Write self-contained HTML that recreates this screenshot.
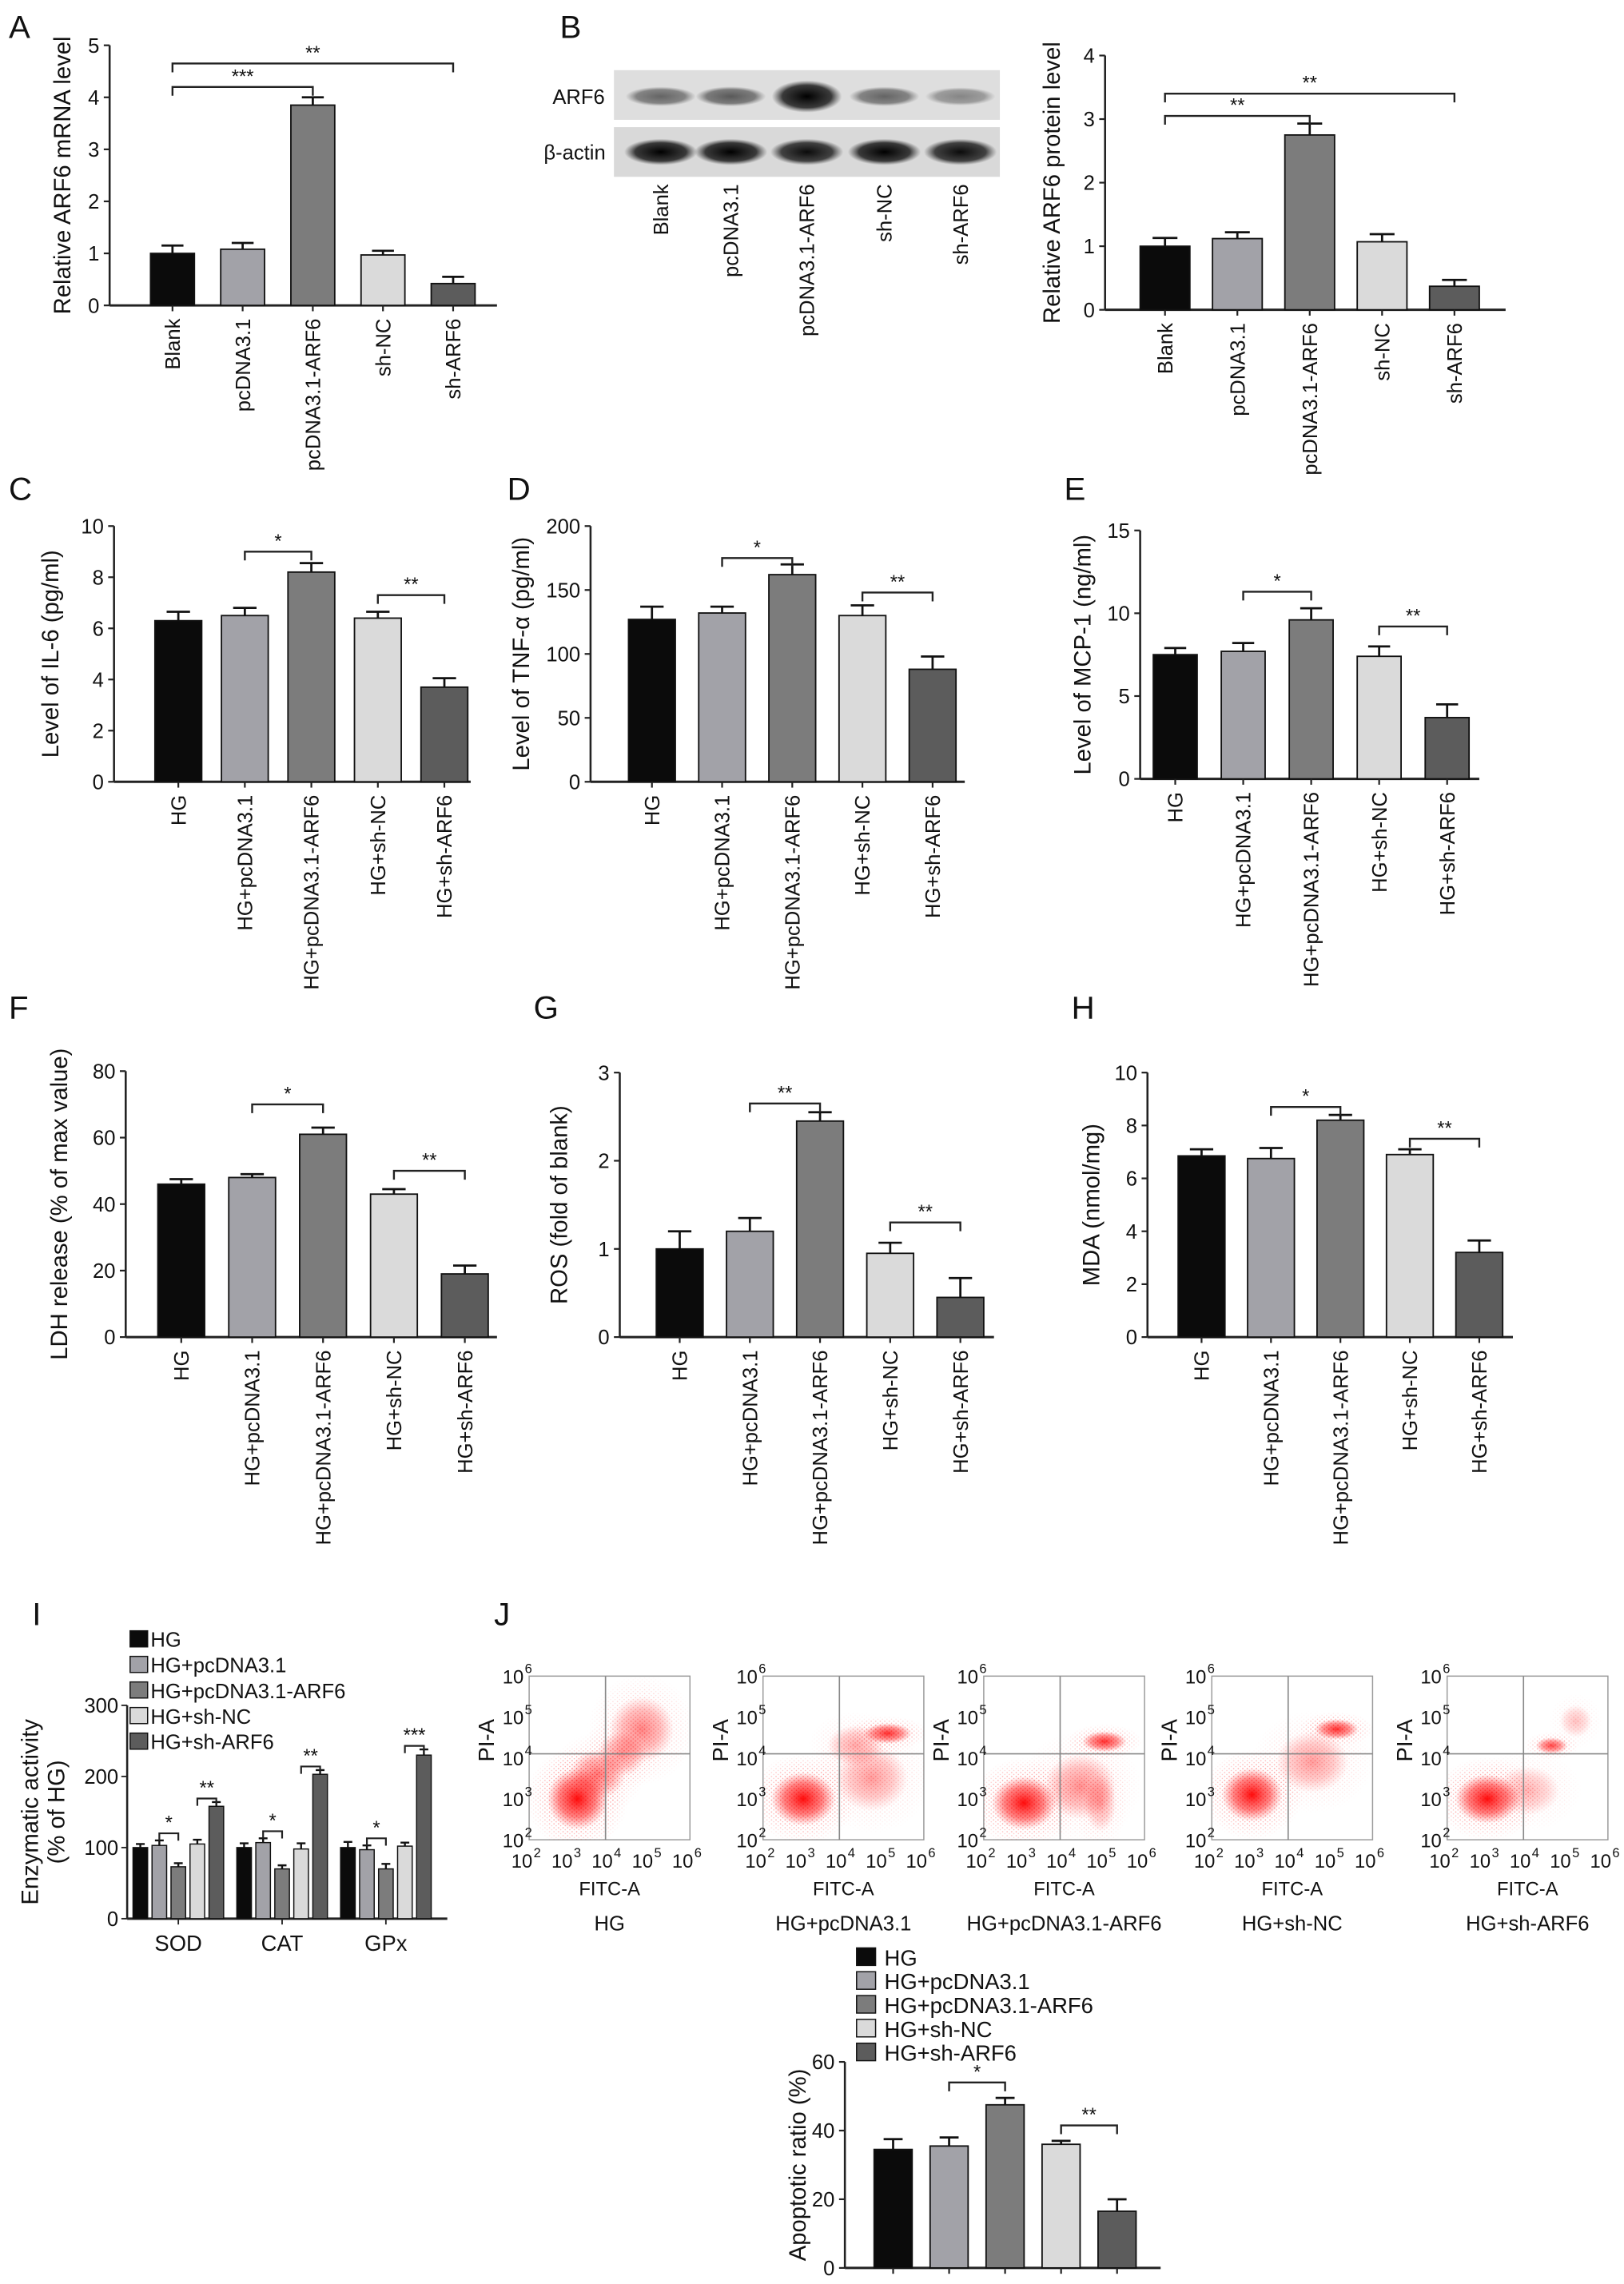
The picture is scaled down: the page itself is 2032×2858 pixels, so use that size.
<!DOCTYPE html>
<html><head><meta charset="utf-8"><style>
html,body{margin:0;padding:0;background:#fff}
svg{display:block}
text{font-family:"Liberation Sans",Arial,sans-serif;fill:#111}
</style></head><body>
<svg id="fig" width="2032" height="2858" viewBox="0 0 1111 1563" preserveAspectRatio="none" xmlns="http://www.w3.org/2000/svg">
<defs>
<radialGradient id="dotg"><stop offset="0" stop-color="#ff0000" stop-opacity="0.95"/><stop offset="0.6" stop-color="#ff2020" stop-opacity="0.55"/><stop offset="1" stop-color="#ff4040" stop-opacity="0"/></radialGradient>
<radialGradient id="bandg"><stop offset="0" stop-color="#000" stop-opacity="1"/><stop offset="0.7" stop-color="#111" stop-opacity="0.8"/><stop offset="1" stop-color="#333" stop-opacity="0"/></radialGradient>
<pattern id="dots" width="3.1" height="2.7" patternUnits="userSpaceOnUse"><circle cx="0.8" cy="0.7" r="0.45" fill="#f00"/><circle cx="2.3" cy="2.0" r="0.4" fill="#f33"/></pattern>
<radialGradient id="fade"><stop offset="0" stop-color="#fff" stop-opacity="1"/><stop offset="0.5" stop-color="#fff" stop-opacity="0.6"/><stop offset="1" stop-color="#fff" stop-opacity="0"/></radialGradient>
<mask id="fadeMask" maskContentUnits="objectBoundingBox"><rect x="0" y="0" width="1" height="1" fill="url(#fade)"/></mask>
</defs>
</svg>
<script>
const groups5=["Blank","pcDNA3.1","pcDNA3.1-ARF6","sh-NC","sh-ARF6"];
const hgGroups=["HG","HG+pcDNA3.1","HG+pcDNA3.1-ARF6","HG+sh-NC","HG+sh-ARF6"];
const fills=["#0b0b0b","#a2a2a8","#7c7c7c","#dadada","#5c5c5c"];
// A
const aVals=[1.0,1.08,3.85,0.97,0.42];
const aErr=[0.15,0.12,0.15,0.08,0.13];
const aTicks=[0,1,2,3,4,5];
// B
const bVals=[1.0,1.12,2.75,1.07,0.37];
const bErr=[0.13,0.10,0.18,0.12,0.10];
const bTicks=[0,1,2,3,4];
const blotArf6=[0.55,0.6,1.0,0.55,0.4];
const blotActin=[1,1,0.95,1,0.95];
// C
const cVals=[6.3,6.5,8.2,6.4,3.7];
const cErr=[0.35,0.3,0.35,0.25,0.35];
const cTicks=[0,2,4,6,8,10];
// D
const dVals=[127,132,162,130,88];
const dErr=[10,5,8,8,10];
const dTicks=[0,50,100,150,200];
// E
const eVals=[7.5,7.7,9.6,7.4,3.7];
const eErr=[0.4,0.5,0.7,0.6,0.8];
const eTicks=[0,5,10,15];
// F
const fVals=[46,48,61,43,19];
const fErr=[1.5,1,2,1.5,2.5];
const fTicks=[0,20,40,60,80];
// G
const gVals=[1.0,1.2,2.45,0.95,0.45];
const gErr=[0.2,0.15,0.1,0.12,0.22];
const gTicks=[0,1,2,3];
// H
const hVals=[6.85,6.75,8.2,6.9,3.2];
const hErr=[0.25,0.4,0.2,0.2,0.45];
const hTicks=[0,2,4,6,8,10];
// I
const iCats=["SOD","CAT","GPx"];
const iVals=[[100,103,73,105,158],[100,107,70,98,203],[100,97,70,102,230]];
const iErr=[[5,7,5,6,6],[6,6,5,8,6],[8,6,7,5,8]];
const iTicks=[0,100,200,300];
// J apoptosis
const jVals=[34.5,35.5,47.5,36,16.5];
const jErr=[3,2.5,2,1,3.5];
const jTicks=[0,20,40,60];
// flow clusters: [fitcLog, piLog, rx(decades), ry(decades), opacity]
const flowClusters=[
 [[3.2,3.0,0.75,0.75,1],[3.7,3.6,0.7,0.6,0.55],[4.8,4.7,0.8,0.8,0.5],[4.3,4.1,0.6,0.55,0.45]],
 [[3.0,3.0,0.8,0.65,1],[5.1,4.6,0.6,0.25,0.85],[4.7,3.5,0.9,0.8,0.4],[4.3,4.3,0.7,0.5,0.35]],
 [[3.0,2.9,0.8,0.65,1],[5.0,4.4,0.55,0.25,0.85],[4.4,3.3,0.9,0.8,0.45],[4.9,2.9,0.4,0.7,0.35]],
 [[3.0,3.1,0.75,0.65,1],[5.1,4.7,0.55,0.25,0.85],[4.5,3.9,0.9,0.75,0.4]],
 [[3.0,3.0,0.8,0.6,1],[4.6,4.3,0.4,0.2,0.75],[4.0,3.2,0.8,0.6,0.3],[5.2,4.9,0.4,0.4,0.25]]
];
const flowNames=["HG","HG+pcDNA3.1","HG+pcDNA3.1-ARF6","HG+sh-NC","HG+sh-ARF6"];
const flowTickExp=[2,3,4,5,6];

const svg=document.getElementById('fig');
const NS="http://www.w3.org/2000/svg";
function el(tag,attrs,parent){const e=document.createElementNS(NS,tag);for(const k in attrs)e.setAttribute(k,attrs[k]);(parent||svg).appendChild(e);return e;}
function txt(s,x,y,size,parent,extra){const t=el('text',Object.assign({x:x,y:y,'font-size':size},extra||{}),parent);t.textContent=s;return t;}

function barChart(c){
  const g=el('g',{});
  
  
  const ys=v=>c.yBot-(v/c.vmax)*(c.yBot-c.yTop);
  const xs=i=>c.first+i*c.step;
  const ya=el('line',{x1:c.ax,y1:c.yTop,x2:c.ax,y2:c.yBot,stroke:'#222','stroke-width':1.4},g);
  
  c.ticks.forEach(t=>{const y=ys(t);el('line',{x1:c.ax-4,y1:y,x2:c.ax,y2:y,stroke:'#222','stroke-width':1.2},g);
    const tl=txt(String(t),c.ax-7,y+5,c.fs||14,g,{'text-anchor':'end'});});
  const xa=el('line',{x1:c.ax,y1:c.yBot,x2:c.xEnd,y2:c.yBot,stroke:'#222','stroke-width':1.6},g);
  
  c.vals.forEach((v,i)=>{
    const x=xs(i),y=ys(v);
    const r=el('rect',{x:x-c.w/2,y:y,width:c.w,height:c.yBot-y,fill:fills[i],stroke:'#111','stroke-width':1},g);
    
    const ye=ys(v+c.err[i]);
    el('line',{x1:x,y1:y,x2:x,y2:ye,stroke:'#111','stroke-width':1.5},g);
    el('line',{x1:x-c.w*0.25,y1:ye,x2:x+c.w*0.25,y2:ye,stroke:'#111','stroke-width':1.5},g);
    el('line',{x1:x,y1:c.yBot,x2:x,y2:c.yBot+4,stroke:'#222','stroke-width':1.2},g);
    if(c.rotLabels!==false){
      const t=txt(c.cats[i],0,0,c.lfs||14,g,{'text-anchor':'end',transform:`translate(${x+5},${c.yBot+9}) rotate(-90)`});
      
    }
  });
  (c.brackets||[]).forEach(b=>{
    const y=ys(b[2]),x1=xs(b[0]),x2=xs(b[1]);
    el('path',{d:`M${x1},${y+6}V${y}H${x2}V${y+6}`,fill:'none',stroke:'#222','stroke-width':1.3},g);
    const st=txt(b[3],(x1+x2)/2,y-3,13,g,{'text-anchor':'middle'});
    
  });
  const yt=txt(c.title,0,0,c.tfs||16,g,{'text-anchor':'middle',transform:`translate(${c.titleX},${(c.yTop+c.yBot)/2}) rotate(-90)`});
  
  return g;
}
function panelLabel(s,x,y){const t=txt(s,x,y,22);}

panelLabel('A',6,26);
barChart({name:'chart-a-mrna',ax:75,xEnd:340,first:118,step:48,w:30,yTop:31,yBot:209,vmax:5,ticks:aTicks,vals:aVals,err:aErr,cats:groups5,title:'Relative ARF6 mRNA level',titleX:48,
 brackets:[[0,2,4.2,'***'],[0,4,4.65,'**']]});
panelLabel('B',383,26);
const blot=el('g',{});
el('rect',{x:420,y:48,width:264,height:34,fill:'#dedede'},blot);
el('rect',{x:420,y:87,width:264,height:34,fill:'#d9d9d9'},blot);
const laneX=[452,500,552,605,657];
blotArf6.forEach((a,i)=>{const b=el('ellipse',{cx:laneX[i],cy:66,rx:24,ry:5+6*a*(a>0.9?1:0.5),fill:'url(#bandg)',opacity:a},blot);});
blotActin.forEach((a,i)=>{const b=el('ellipse',{cx:laneX[i],cy:104,rx:25,ry:9,fill:'url(#bandg)',opacity:a},blot);});
txt('ARF6',378,71,14,blot);txt('β-actin',372,109,14,blot);
groups5.forEach((s,i)=>{const t=txt(s,0,0,14,blot,{'text-anchor':'end',transform:`translate(${laneX[i]+5},126) rotate(-90)`});});
barChart({name:'chart-b-protein',ax:756,xEnd:1030,first:797,step:49.5,w:34,yTop:38,yBot:212,vmax:4,ticks:bTicks,vals:bVals,err:bErr,cats:groups5,title:'Relative ARF6 protein level',titleX:725,
 brackets:[[0,2,3.05,'**'],[0,4,3.4,'**']]});

panelLabel('C',6,342);
barChart({name:'chart-c-il6',ax:78,xEnd:322,first:122,step:45.5,w:32,yTop:360,yBot:535,vmax:10,ticks:cTicks,vals:cVals,err:cErr,cats:hgGroups,title:'Level of IL-6 (pg/ml)',titleX:40,
 brackets:[[1,2,9.0,'*'],[3,4,7.3,'**']]});
panelLabel('D',347,342);
barChart({name:'chart-d-tnf',ax:404,xEnd:660,first:446,step:48,w:32,yTop:360,yBot:535,vmax:200,ticks:dTicks,vals:dVals,err:dErr,cats:hgGroups,title:'Level of TNF-α (pg/ml)',titleX:362,
 brackets:[[1,2,175,'*'],[3,4,148,'**']]});
panelLabel('E',728,342);
barChart({name:'chart-e-mcp1',ax:780,xEnd:1012,first:804,step:46.5,w:30,yTop:363,yBot:533,vmax:15,ticks:eTicks,vals:eVals,err:eErr,cats:hgGroups,title:'Level of MCP-1 (ng/ml)',titleX:746,
 brackets:[[1,2,11.3,'*'],[3,4,9.2,'**']]});

panelLabel('F',6,697);
barChart({name:'chart-f-ldh',ax:86,xEnd:340,first:124,step:48.5,w:32,yTop:733,yBot:915,vmax:80,ticks:fTicks,vals:fVals,err:fErr,cats:hgGroups,title:'LDH release (% of max value)',titleX:46,
 brackets:[[1,2,70,'*'],[3,4,50,'**']]});
panelLabel('G',365,697);
barChart({name:'chart-g-ros',ax:424,xEnd:680,first:465,step:48,w:32,yTop:734,yBot:915,vmax:3,ticks:gTicks,vals:gVals,err:gErr,cats:hgGroups,title:'ROS (fold of blank)',titleX:388,
 brackets:[[1,2,2.65,'**'],[3,4,1.3,'**']]});
panelLabel('H',733,697);
barChart({name:'chart-h-mda',ax:785,xEnd:1035,first:822,step:47.5,w:32,yTop:734,yBot:915,vmax:10,ticks:hTicks,vals:hVals,err:hErr,cats:hgGroups,title:'MDA (nmol/mg)',titleX:752,
 brackets:[[1,2,8.7,'*'],[3,4,7.5,'**']]});

panelLabel('I',22,1112);
(function(){
  const g=el('g',{});
  const ax=87,yTop=1167,yBot=1313,vmax=300,xEnd=306;
  const ys=v=>yBot-v/vmax*(yBot-yTop);
  const gx=k=>122+k*71;const bx=(k,i)=>gx(k)+(i-2)*13;
  el('line',{x1:ax,y1:yTop,x2:ax,y2:yBot,stroke:'#222','stroke-width':1.4},g);
  el('line',{x1:ax,y1:yBot,x2:xEnd,y2:yBot,stroke:'#222','stroke-width':1.6},g);
  iTicks.forEach(t=>{const y=ys(t);el('line',{x1:ax-4,y1:y,x2:ax,y2:y,stroke:'#222'},g);txt(String(t),ax-6,y+5,14,g,{'text-anchor':'end'});});
  iVals.forEach((row,k)=>{
    row.forEach((v,i)=>{const x=bx(k,i),y=ys(v);
      const r=el('rect',{x:x-5,y:y,width:10,height:yBot-y,fill:fills[i],stroke:'#111','stroke-width':0.8},g);
      
      const ye=ys(v+iErr[k][i]);el('path',{d:`M${x},${y}V${ye}M${x-3},${ye}H${x+3}`,stroke:'#111','stroke-width':1.3},g);});
    el('line',{x1:gx(k),y1:yBot,x2:gx(k),y2:yBot+4,stroke:'#222'},g);
    const t=txt(iCats[k],gx(k),yBot+22,15,g,{'text-anchor':'middle'});
    const br=[[1,2,row[1]+iErr[k][1]+10,'*'],[3,4,row[4]+iErr[k][4]+5,k==2?'***':'**']];
    br.forEach(b=>{const y=ys(b[2]),x1=bx(k,b[0]),x2=bx(k,b[1]);el('path',{d:`M${x1},${y+5}V${y}H${x2}V${y+5}`,fill:'none',stroke:'#222','stroke-width':1.2},g);
      const st=txt(b[3],(x1+x2)/2,y-3,13,g,{'text-anchor':'middle'});});
  });
  txt('Enzymatic activity',0,0,16,g,{'text-anchor':'middle',transform:`translate(26,1240) rotate(-90)`});
  txt('(% of HG)',0,0,16,g,{'text-anchor':'middle',transform:`translate(44,1240) rotate(-90)`});
  hgGroups.forEach((s,i)=>{const y=1122+i*17.5;const lg=el('g',{},g);
    el('rect',{x:89,y:y-6,width:12,height:11,fill:fills[i],stroke:'#111','stroke-width':0.8},lg);txt(s,103,y+5,14,lg);});
})();

panelLabel('J',338,1112);
const flowLeft=[362,522,673,829,990];
flowClusters.forEach((cl,p)=>{
  const g=el('g',{});
  const x0=flowLeft[p],w=110,yT=1147,h=112;
  const fx=e=>x0+(e-2)/4*w, fy=e=>yT+h-(e-2)/4*h;
  el('rect',{x:x0,y:yT,width:w,height:h,fill:'#fff',stroke:'#999','stroke-width':0.8},g);
  const clipId='fclip'+p;
  const cp=el('clipPath',{id:clipId},g);el('rect',{x:x0,y:yT,width:w,height:h},cp);
  const inner=el('g',{'clip-path':`url(#${clipId})`},g);
  cl.forEach(c=>{
    const halo=el('ellipse',{cx:fx(c[0]),cy:fy(c[1]),rx:c[2]/4*w*1.7,ry:c[3]/4*h*1.7,fill:'url(#dots)',mask:'url(#fadeMask)',opacity:Math.min(1,c[4]*0.9)},inner);
    
    const d=el('ellipse',{cx:fx(c[0]),cy:fy(c[1]),rx:c[2]/4*w,ry:c[3]/4*h,fill:'url(#dotg)',opacity:c[4]},inner);
    });
  el('line',{x1:fx(3.9),y1:yT,x2:fx(3.9),y2:yT+h,stroke:'#888','stroke-width':0.9},g);
  el('line',{x1:x0,y1:fy(4.1),x2:x0+w,y2:fy(4.1),stroke:'#888','stroke-width':0.9},g);
  flowTickExp.forEach(e=>{
    txt('10',fx(e)-5,yT+h+19,13,g,{'text-anchor':'middle'});txt(String(e),fx(e)+3,yT+h+12,9,g);
    txt('10',x0-11,fy(e)+5,13,g,{'text-anchor':'middle'});txt(String(e),x0-3,fy(e)-2,9,g);
  });
  txt('PI-A',0,0,15,g,{'text-anchor':'middle',transform:`translate(${x0-24},${yT+h/2-12}) rotate(-90)`});
  txt('FITC-A',x0+w/2,yT+h+38,13,g,{'text-anchor':'middle'});
  const nl=txt(flowNames[p],x0+w/2,yT+h+62,14,g,{'text-anchor':'middle'});
});
barChart({name:'chart-j-apoptosis',ax:578,xEnd:794,first:611,step:38.3,w:26,yTop:1411,yBot:1552,vmax:60,ticks:jTicks,vals:jVals,err:jErr,cats:hgGroups,rotLabels:false,title:'Apoptotic ratio (%)',titleX:551,
 brackets:[[1,2,54,'*'],[3,4,41.5,'**']]});
hgGroups.forEach((s,i)=>{const y=1339+i*16.3;const lg=el('g',{});
  el('rect',{x:586,y:y-6,width:13,height:12,fill:fills[i],stroke:'#111','stroke-width':0.8},lg);txt(s,605,y+6,15,lg);});
</script>
</body></html>
